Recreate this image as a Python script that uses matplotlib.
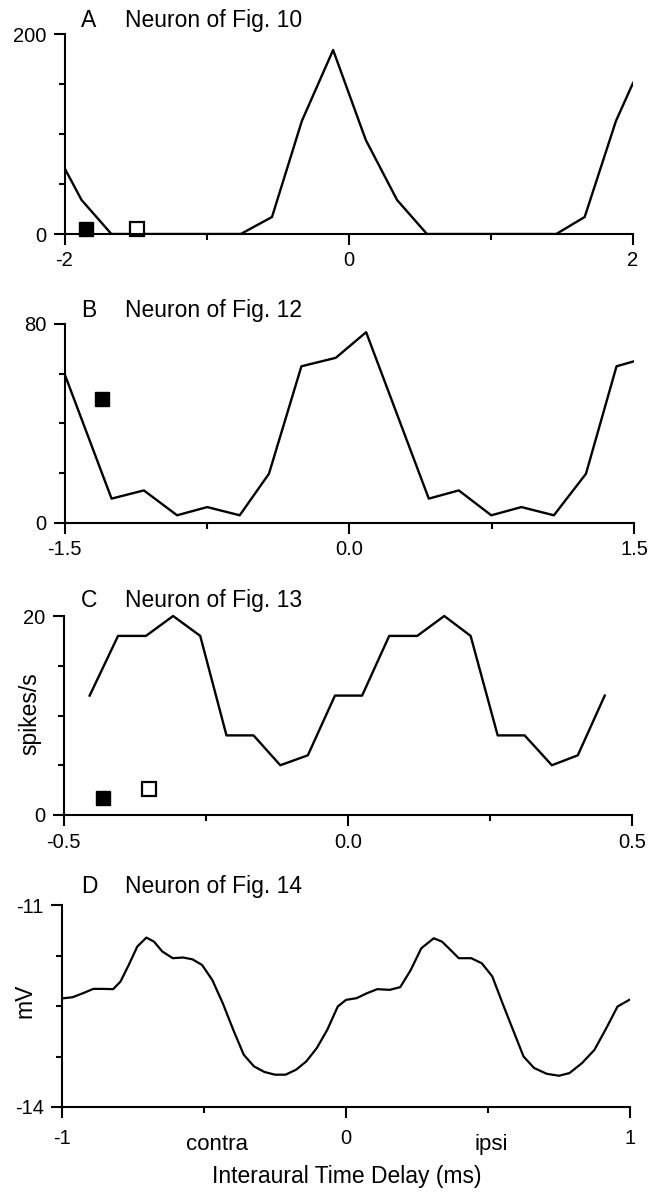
import matplotlib.pyplot as plt

plt.rcParams["font.family"] = ["Liberation Sans", "DejaVu Sans"]

# A - Neuron of Fig. 10 (spikes/s vs ITD, ms)
a_itd = [-2.0, -1.88, -1.67, -0.76, -0.54, -0.33, -0.11, 0.12, 0.34, 0.55, 1.46, 1.66, 1.88, 2.0]
a_rate = [66, 34, 0, 0, 17, 113, 184, 94, 34, 0, 0, 17, 113, 151]
a_filled = [(-1.85, 5)]
a_open = [(-1.49, 5)]

# B - Neuron of Fig. 12
b_itd = [-1.5, -1.252, -1.082, -0.907, -0.748, -0.577, -0.423, -0.252, -0.071, 0.089,
         0.419, 0.577, 0.748, 0.907, 1.078, 1.247, 1.408, 1.5]
b_rate = [60, 9.8, 13.1, 3.1, 6.4, 3.1, 19.8, 63, 66.4, 76.7,
          9.8, 13.1, 3.1, 6.4, 3.1, 19.8, 63, 65]
b_filled = [(-1.30, 50)]
b_open = []

# C - Neuron of Fig. 13
c_itd = [-0.4545, -0.4045, -0.3554, -0.3076, -0.2599, -0.2137, -0.166, -0.119, -0.0705, -0.0228,
         0.025, 0.0727, 0.122, 0.1696, 0.216, 0.2636, 0.311, 0.359, 0.4046, 0.452]
c_rate = [12, 18, 18, 20, 18, 8, 8, 5, 6, 12,
          12, 18, 18, 20, 18, 8, 8, 5, 6, 12]
c_filled = [(-0.431, 1.7)]
c_open = [(-0.350, 2.6)]

# D - Neuron of Fig. 14 (membrane potential, mV)
d_itd = [-0.993, -0.963, -0.926, -0.89, -0.853, -0.82, -0.794, -0.765, -0.735, -0.703,
         -0.676, -0.647, -0.61, -0.574, -0.541, -0.507, -0.471, -0.434, -0.397, -0.36,
         -0.324, -0.287, -0.25, -0.213, -0.176, -0.14, -0.103, -0.066, -0.029, 0.0,
         0.037, 0.074, 0.11, 0.154, 0.191, 0.228, 0.265, 0.309, 0.338, 0.368,
         0.397, 0.441, 0.478, 0.515, 0.551, 0.588, 0.625, 0.662, 0.706, 0.75,
         0.787, 0.831, 0.875, 0.919, 0.956, 0.997]
d_mv = [-12.384, -12.37, -12.31, -12.246, -12.246, -12.25, -12.137, -11.89, -11.618, -11.484,
        -11.544, -11.69, -11.79, -11.78, -11.806, -11.89, -12.112, -12.458, -12.854, -13.224,
        -13.397, -13.48, -13.52, -13.52, -13.447, -13.323, -13.126, -12.854, -12.508, -12.409,
        -12.384, -12.31, -12.25, -12.26, -12.22, -11.965, -11.643, -11.494, -11.544, -11.667,
        -11.79, -11.79, -11.865, -12.06, -12.458, -12.854, -13.249, -13.42, -13.506, -13.536,
        -13.496, -13.348, -13.15, -12.81, -12.508, -12.41]

W, H = 651, 1199
fig = plt.figure(figsize=(W / 100, H / 100), dpi=100)


def rect(left, right, top, bottom):
    return [left / W, 1 - bottom / H, (right - left) / W, (bottom - top) / H]


def style(ax, xlim, ylim, xmajor, xlabels, xminor, ymajor, ylabels, yminor, xpad):
    ax.set_xlim(xlim)
    ax.set_ylim(ylim)
    for s in ["top", "right"]:
        ax.spines[s].set_visible(False)
    for s in ["left", "bottom"]:
        ax.spines[s].set_linewidth(1.5)
    ax.set_xticks(xmajor)
    ax.set_xticklabels(xlabels)
    ax.set_xticks(xminor, minor=True)
    ax.set_yticks(ymajor)
    ax.set_yticklabels(ylabels)
    ax.set_yticks(yminor, minor=True)
    ax.tick_params(which="major", direction="out", length=8, width=1.5, labelsize=14.5)
    ax.tick_params(which="minor", direction="out", length=4.5, width=1.5)
    ax.tick_params(axis="x", which="major", pad=xpad)
    ax.tick_params(axis="y", which="major", pad=5)


def title(letter, text, baseline_px):
    fig.text(81 / W, 1 - baseline_px / H, letter, fontsize=16.5, va="baseline")
    fig.text(125 / W, 1 - baseline_px / H, text, fontsize=16.5, va="baseline")


def squares(ax, filled, empty):
    for x, y in filled:
        ax.plot(x, y, "s", ms=10, color="black", clip_on=False)
    for x, y in empty:
        ax.plot(x, y, "s", ms=10, mfc="white", mec="black", mew=1.6, clip_on=False)


# A
ax = fig.add_axes(rect(64.5, 633, 34, 234))
ax.plot(a_itd, a_rate, color="black", lw=1.7)
squares(ax, a_filled, a_open)
style(ax, (-2, 2), (0, 200), [-2, 0, 2], ["-2", "0", "2"], [-1, 1],
      [0, 200], ["0", "200"], [50, 100, 150], 4.5)
title("A", "Neuron of Fig. 10", 27)

# B
ax = fig.add_axes(rect(64.5, 634, 324, 523))
ax.plot(b_itd, b_rate, color="black", lw=1.7)
squares(ax, b_filled, b_open)
style(ax, (-1.5, 1.5), (0, 80), [-1.5, 0, 1.5], ["-1.5", "0.0", "1.5"], [-0.75, 0.75],
      [0, 80], ["0", "80"], [20, 40, 60], 4.5)
title("B", "Neuron of Fig. 12", 317)

# C
ax = fig.add_axes(rect(63.8, 632, 616, 815))
ax.plot(c_itd, c_rate, color="black", lw=1.7, clip_on=False)
squares(ax, c_filled, c_open)
style(ax, (-0.5, 0.5), (0, 20), [-0.5, 0, 0.5], ["-0.5", "0.0", "0.5"], [-0.25, 0.25],
      [0, 20], ["0", "20"], [5, 10, 15], 5)
title("C", "Neuron of Fig. 13", 607)
fig.text(30 / W, 1 - 714 / H, "spikes/s", fontsize=16.5, rotation=90, ha="center", va="center")

# D
ax = fig.add_axes(rect(62, 630, 905, 1107))
ax.plot(d_itd, d_mv, color="black", lw=1.6)
style(ax, (-1, 1), (-14, -11), [-1, 0, 1], ["-1", "0", "1"], [-0.5, 0.5],
      [-14, -11], ["-14", "-11"], [-13.25, -12.5, -11.75], 8)
title("D", "Neuron of Fig. 14", 893)
fig.text(25 / W, 1 - 1001 / H, "mV", fontsize=16.5, rotation=90, ha="center", va="center")
fig.text(217 / W, 1 - 1150 / H, "contra", fontsize=16, ha="center", va="baseline")
fig.text(491 / W, 1 - 1150 / H, "ipsi", fontsize=16, ha="center", va="baseline")
fig.text(347 / W, 1 - 1177 / H, "Interaural Time Delay (ms)", fontsize=16.5, ha="center", va="center")

fig.savefig("out.png", dpi=100, facecolor="white")
